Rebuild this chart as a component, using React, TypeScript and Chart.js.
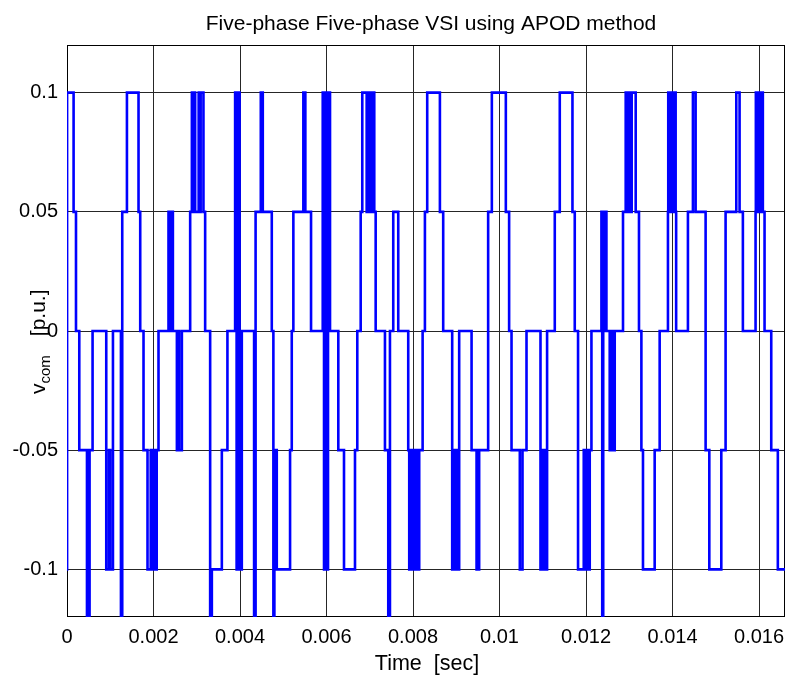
import React, { useEffect, useRef } from 'react';
import { Chart, registerables } from 'chart.js';

Chart.register(...registerables);

const chartTitle = 'Five-phase Five-phase VSI using APOD method';
const xAxisTitle = 'Time  [sec]';
const yAxisMain = 'v';
const yAxisSub = 'com';
const yAxisUnit = '[p.u.]';

const xTicks = [0, 0.002, 0.004, 0.006, 0.008, 0.01, 0.012, 0.014, 0.016];
const xTickLabels = ['0', '0.002', '0.004', '0.006', '0.008', '0.01', '0.012', '0.014', '0.016'];
const yTicks = [-0.1, -0.05, 0, 0.05, 0.1];
const yTickLabels = ['-0.1', '-0.05', '0', '0.05', '0.1'];

// switching instants (ms) and the common-mode level that starts at each instant
const switchTimeMs = [
  0, 0.0023, 0.1524, 0.2079, 0.2841, 0.4619, 0.5219, 0.5912, 0.9076, 0.97, 1.0, 1.0624,
  1.2471, 1.2772, 1.3857, 1.6536, 1.6929, 1.7691, 1.8615, 1.9354, 1.9585, 1.9931, 2.0162,
  2.0739, 2.1155, 2.3465, 2.3857, 2.4088, 2.4481, 2.5405, 2.5705, 2.5936, 2.6559, 2.8476,
  2.8869, 2.9169, 2.94, 2.9631, 3.0439, 3.067, 3.0901, 3.1548, 3.194, 3.3095, 3.3488,
  3.5797, 3.7091, 3.8869, 3.9215, 3.9562, 3.9908, 4.0416, 4.3257, 4.3603, 4.4804, 4.5266,
  4.7345, 4.7714, 4.7945, 4.8107, 4.85, 5.1571, 5.1964, 5.2333, 5.4643, 5.5105, 5.6421,
  5.9123, 5.9423, 5.9654, 6.0001, 6.0347, 6.0809, 6.2726, 6.4042, 6.6583, 6.7114, 6.7899,
  6.8269, 6.9285, 6.9585, 6.9932, 7.0278, 7.0671, 7.0809, 7.104, 7.1364, 7.3511, 7.4274,
  7.4666, 7.5428, 7.6583, 7.8893, 7.9123, 7.9516, 7.9747, 8.0093, 8.0324, 8.0671, 8.0902,
  8.1433, 8.2218, 8.2749, 8.3281, 8.6214, 8.6976, 8.9054, 8.9447, 8.9678, 9.014, 9.0371,
  9.0671, 9.3535, 9.469, 9.529, 9.7369, 9.8223, 10.1456, 10.2218, 10.2773, 10.469, 10.5313,
  10.6237, 10.947, 10.984, 11.0071, 11.0463, 11.0694, 11.0995, 11.2773, 11.3928, 11.6861,
  11.7392, 11.8154, 11.9471, 11.9817, 12.0163, 12.051, 12.0856, 12.1249, 12.3558, 12.3743,
  12.3974, 12.4205, 12.4436, 12.4713, 12.5475, 12.5821, 12.6052, 12.6632, 12.8547, 12.917,
  12.9748, 12.9979, 13.0325, 13.0556, 13.148, 13.2242, 13.2796, 13.3166, 13.5868, 13.7023,
  13.894, 13.9009, 13.9332, 13.9563, 13.9864, 14.0094, 14.0372, 14.0487, 14.0718, 14.0833,
  14.3558, 14.4713, 14.5337, 14.7646, 14.8501, 15.1272, 15.2265, 15.4737, 15.5499, 15.6261,
  15.9194, 15.9263, 15.9656, 15.9887, 16.0349, 16.058, 16.088, 16.1272, 16.282, 16.4344,
  16.6284, 16.7,
];

const vcomLevel = [
  -0.1, 0.1, 0.05, 0, -0.05, -0.15, -0.05, 0, -0.1, -0.05, -0.1, 0,
  -0.15, 0.05, 0.1, 0.05, 0, -0.05, -0.1, -0.05, -0.1, -0.05, -0.1,
  -0.05, 0, 0.05, 0, 0.05, 0, -0.05, 0, -0.05, 0, 0.05,
  0.1, 0.05, 0.1, 0.05, 0.1, 0.05, 0.1, 0.05, 0, -0.15, -0.1,
  -0.05, 0, 0.1, -0.1, 0.1, -0.1, 0, -0.15, 0.05, 0.1, 0.05,
  0, -0.15, -0.1, -0.05, -0.1, -0.05, 0, 0.05, 0.1, 0.05, 0,
  0.1, -0.1, 0.1, -0.1, 0.1, 0, -0.05, -0.1, -0.05, 0, 0.05,
  0.1, 0.05, 0.1, 0.05, 0.1, 0.05, 0.1, 0.05, 0, -0.05, -0.15,
  0, 0.05, 0, -0.05, -0.1, -0.05, -0.1, -0.05, -0.1, -0.05, -0.1,
  -0.05, 0, 0.05, 0.1, 0.05, 0, -0.1, -0.05, -0.1, -0.05, -0.1,
  0, -0.05, -0.1, -0.05, 0.05, 0.1, 0.05, 0, -0.05, -0.1, -0.05,
  0, -0.1, -0.05, -0.1, -0.05, -0.1, 0, 0.05, 0.1, 0.05,
  0, -0.1, -0.05, -0.1, -0.05, -0.1, -0.05, 0, 0.05, -0.15,
  0.05, 0, 0.05, 0, -0.05, 0, -0.05, 0, 0.05, 0.1,
  0.05, 0.1, 0.05, 0.1, 0.05, 0, -0.05, -0.1, -0.05, 0,
  0.05, 0.1, 0.05, 0.1, 0.05, 0.1, 0.05, 0.1, 0.05, 0,
  0.05, 0.1, 0.05, -0.05, -0.1, -0.05, 0.05, 0.1, 0.05, 0,
  0.05, 0.1, 0.05, 0.1, 0.05, 0.1, 0.05, 0, -0.05, -0.1,
  -0.05, -0.05,
];

const FONT = '"Liberation Sans", Arial, Helvetica, sans-serif';

const decorPlugin = {
  id: 'matlabDecor',
  beforeDatasetsDraw(chart: any) {
    const { ctx, chartArea: a } = chart;
    ctx.save();
    ctx.strokeStyle = '#000';
    ctx.lineWidth = 1;
    ctx.strokeRect(Math.round(a.left) + 0.5, Math.round(a.top) + 0.5, Math.round(a.right - a.left) - 1, Math.round(a.bottom - a.top) - 1);
    ctx.restore();
  },
  afterDraw(chart: any) {
    const { ctx } = chart;
    ctx.save();
    ctx.fillStyle = '#000';
    ctx.textAlign = 'center';
    ctx.textBaseline = 'alphabetic';
    ctx.font = `21px ${FONT}`;
    ctx.fillText(chartTitle, 431, 30);
    ctx.font = `21.5px ${FONT}`;
    ctx.fillText(xAxisTitle, 427, 670);

    // rotated y-axis label with subscript, reading bottom-to-top
    ctx.translate(45, 394);
    ctx.rotate(-Math.PI / 2);
    ctx.textAlign = 'left';
    const mainFont = `21px ${FONT}`;
    const subFont = `15px ${FONT}`;
    ctx.font = mainFont;
    const wMain = ctx.measureText(yAxisMain).width;
    ctx.fillText(yAxisMain, 0, 0);
    ctx.font = subFont;
    const wSub = ctx.measureText(yAxisSub).width;
    ctx.fillText(yAxisSub, wMain, 5);
    ctx.font = mainFont;
    ctx.fillText(yAxisUnit, wMain + wSub + 19, 0);
    ctx.restore();
  },
};

export default function App() {
  const canvasRef = useRef<HTMLCanvasElement | null>(null);

  useEffect(() => {
    document.body.style.margin = '0';
    const canvas = canvasRef.current;
    if (!canvas) return;
    const points = switchTimeMs.map((t, i) => ({ x: t / 1000, y: vcomLevel[i] }));

    const chart = new Chart(canvas, {
      type: 'line',
      data: {
        datasets: [
          {
            data: points,
            borderColor: '#0000ff',
            borderWidth: 2.6,
            pointRadius: 0,
            stepped: true,
            fill: false,
            tension: 0,
          },
        ],
      },
      options: {
        animation: false,
        responsive: false,
        maintainAspectRatio: false,
        devicePixelRatio: 1,
        layout: { padding: { top: 45, right: 5, left: 0, bottom: 0 } },
        plugins: {
          legend: { display: false },
          title: { display: false },
          tooltip: { enabled: false },
        },
        scales: {
          x: {
            type: 'linear',
            min: 0,
            max: 0.0166,
            afterBuildTicks: (scale: any) => {
              scale.ticks = xTicks.map((v) => ({ value: v }));
            },
            afterFit: (scale: any) => {
              scale.height = 60;
              scale.paddingLeft = 0;
              scale.paddingRight = 0;
            },
            grid: { color: '#262626', lineWidth: 1, drawTicks: false },
            border: { display: false },
            ticks: {
              autoSkip: false,
              maxRotation: 0,
              padding: 8,
              color: '#000',
              font: { family: FONT, size: 20 },
              callback: (_v: any, i: number) => xTickLabels[i],
            },
          },
          y: {
            type: 'linear',
            min: -0.12,
            max: 0.12,
            afterBuildTicks: (scale: any) => {
              scale.ticks = yTicks.map((v) => ({ value: v }));
            },
            afterFit: (scale: any) => {
              scale.width = 67;
              scale.paddingTop = 0;
              scale.paddingBottom = 0;
            },
            grid: { color: '#262626', lineWidth: 1, drawTicks: false },
            border: { display: false },
            ticks: {
              autoSkip: false,
              padding: 9,
              color: '#000',
              font: { family: FONT, size: 20 },
              callback: (_v: any, i: number) => yTickLabels[i],
            },
          },
        },
      },
      plugins: [decorPlugin],
    });
    return () => chart.destroy();
  }, []);

  return (
    <div style={{ width: 790, height: 677, background: '#fff' }}>
      <canvas ref={canvasRef} width={790} height={677} style={{ display: 'block' }} />
    </div>
  );
}
